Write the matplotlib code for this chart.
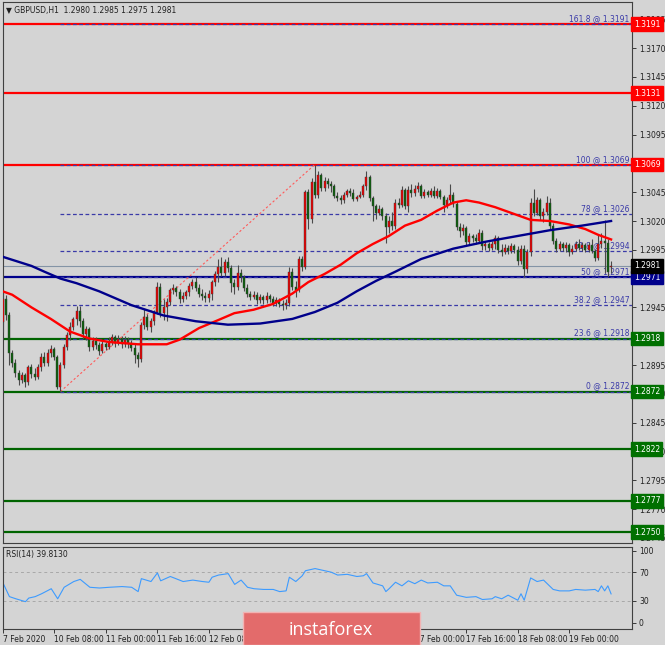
import matplotlib.pyplot as plt
from matplotlib.patches import Rectangle
import matplotlib.transforms as mtransforms

# GBPUSD H1 candles (7 Feb 16:00 .. 19 Feb)
opens = [1.2932, 1.2952, 1.2938, 1.2905, 1.2897, 1.2888, 1.2882, 1.2886, 1.2880, 1.2893,
         1.2887, 1.2885, 1.2893, 1.2902, 1.2897, 1.2905, 1.2909, 1.2902, 1.2876, 1.2895,
         1.2911, 1.2921, 1.2928, 1.2935, 1.2942, 1.2933, 1.2922, 1.2926, 1.2911, 1.2916,
         1.2912, 1.2907, 1.2913, 1.2911, 1.2916, 1.2919, 1.2914, 1.2918, 1.2913, 1.2917,
         1.2914, 1.2910, 1.2904, 1.2900, 1.2930, 1.2937, 1.2928, 1.2933, 1.2941, 1.2963,
         1.2940, 1.2945, 1.2950, 1.2960, 1.2962, 1.2958, 1.2952, 1.2955, 1.2958, 1.2964,
         1.2967, 1.2962, 1.2957, 1.2955, 1.2953, 1.2957, 1.2967, 1.2974, 1.2980, 1.2975,
         1.2984, 1.2979, 1.2966, 1.2963, 1.2975, 1.2971, 1.2962, 1.2957, 1.2954, 1.2956,
         1.2951, 1.2954, 1.2951, 1.2955, 1.2952, 1.2949, 1.2951, 1.2948, 1.2947, 1.2949,
         1.2976, 1.2963, 1.2960, 1.2987, 1.2980, 1.3045, 1.3022, 1.3054, 1.3043, 1.3060,
         1.3049, 1.3055, 1.3052, 1.3050, 1.3042, 1.3040, 1.3038, 1.3043, 1.3046, 1.3044,
         1.3039, 1.3041, 1.3043, 1.3050, 1.3058, 1.3040, 1.3033, 1.3027, 1.3030, 1.3024,
         1.3015, 1.3020, 1.3016, 1.3036, 1.3034, 1.3047, 1.3033, 1.3047, 1.3044, 1.3048,
         1.3050, 1.3042, 1.3045, 1.3043, 1.3046, 1.3042, 1.3046, 1.3041, 1.3034, 1.3038,
         1.3043, 1.3035, 1.3015, 1.3011, 1.3014, 1.3002, 1.3007, 1.3005, 1.3003, 1.3010,
         1.2998, 1.3000, 1.2997, 1.3000, 1.3005, 1.2995, 1.2993, 1.2997, 1.2994, 1.2998,
         1.2995, 1.2985, 1.2996, 1.2978, 1.2993, 1.3036, 1.3027, 1.3038, 1.3024, 1.3028,
         1.3036, 1.3016, 1.3003, 1.2996, 1.3000, 1.2997, 1.2999, 1.2993, 1.2996, 1.3000,
         1.2997, 1.2999, 1.2995, 1.2999, 1.2994, 1.2988, 1.3000, 1.3003, 1.3001, 1.2980]
highs = [1.2958, 1.2956, 1.2941, 1.2908, 1.2900, 1.2891, 1.2889, 1.2888, 1.2895, 1.2896,
         1.2892, 1.2896, 1.2905, 1.2906, 1.2909, 1.2912, 1.2911, 1.2904, 1.2898, 1.2913,
         1.2924, 1.2932, 1.2937, 1.2946, 1.2946, 1.2936, 1.2929, 1.2928, 1.2919, 1.2919,
         1.2915, 1.2916, 1.2915, 1.2919, 1.2922, 1.2921, 1.2921, 1.2920, 1.2920, 1.2919,
         1.2917, 1.2913, 1.2906, 1.2932, 1.2944, 1.2939, 1.2936, 1.2943, 1.2967, 1.2966,
         1.2952, 1.2953, 1.2962, 1.2965, 1.2964, 1.2961, 1.2958, 1.2960, 1.2966, 1.2970,
         1.2971, 1.2965, 1.2961, 1.2958, 1.2960, 1.2969, 1.2977, 1.2987, 1.2989, 1.2987,
         1.2989, 1.2982, 1.2970, 1.2982, 1.2978, 1.2973, 1.2965, 1.2959, 1.2959, 1.2958,
         1.2957, 1.2956, 1.2958, 1.2957, 1.2955, 1.2954, 1.2953, 1.2951, 1.2952, 1.2980,
         1.2979, 1.2968, 1.2990, 1.2990, 1.3047, 1.3048, 1.3057, 1.3069, 1.3063, 1.3062,
         1.3058, 1.3057, 1.3055, 1.3052, 1.3045, 1.3043, 1.3045, 1.3048, 1.3049, 1.3048,
         1.3043, 1.3046, 1.3052, 1.3063, 1.3060, 1.3042, 1.3035, 1.3034, 1.3032, 1.3027,
         1.3024, 1.3028, 1.3039, 1.3040, 1.3050, 1.3049, 1.3050, 1.3052, 1.3051, 1.3054,
         1.3052, 1.3048, 1.3047, 1.3049, 1.3050, 1.3049, 1.3048, 1.3043, 1.3041, 1.3052,
         1.3045, 1.3037, 1.3018, 1.3017, 1.3016, 1.3010, 1.3009, 1.3009, 1.3013, 1.3012,
         1.3003, 1.3002, 1.3003, 1.3008, 1.3007, 1.3000, 1.3000, 1.2999, 1.3001, 1.3000,
         1.2998, 1.2999, 1.2999, 1.2996, 1.3040, 1.3048, 1.3041, 1.3040, 1.3031, 1.3042,
         1.3040, 1.3018, 1.3005, 1.3003, 1.3002, 1.3002, 1.3001, 1.2999, 1.3003, 1.3004,
         1.3002, 1.3001, 1.3002, 1.3004, 1.2996, 1.3008, 1.3010, 1.3021, 1.3004, 1.2985]
lows = [1.2924, 1.2934, 1.2895, 1.2893, 1.2885, 1.2878, 1.2879, 1.2876, 1.2878, 1.2884,
        1.2882, 1.2883, 1.2890, 1.2894, 1.2894, 1.2902, 1.2899, 1.2874, 1.2872, 1.2892,
        1.2908, 1.2917, 1.2925, 1.2930, 1.2928, 1.2918, 1.2917, 1.2907, 1.2908, 1.2909,
        1.2904, 1.2905, 1.2908, 1.2909, 1.2912, 1.2911, 1.2912, 1.2910, 1.2911, 1.2910,
        1.2907, 1.2897, 1.2893, 1.2898, 1.2926, 1.2925, 1.2924, 1.2930, 1.2939, 1.2937,
        1.2934, 1.2933, 1.2947, 1.2957, 1.2955, 1.2949, 1.2950, 1.2952, 1.2955, 1.2961,
        1.2959, 1.2954, 1.2951, 1.2950, 1.2950, 1.2951, 1.2964, 1.2967, 1.2972, 1.2972,
        1.2976, 1.2958, 1.2957, 1.2960, 1.2967, 1.2959, 1.2954, 1.2951, 1.2952, 1.2948,
        1.2949, 1.2948, 1.2949, 1.2950, 1.2946, 1.2946, 1.2945, 1.2943, 1.2944, 1.2946,
        1.2960, 1.2954, 1.2958, 1.2977, 1.2978, 1.3013, 1.3018, 1.3040, 1.3040, 1.3046,
        1.3046, 1.3049, 1.3045, 1.3040, 1.3037, 1.3035, 1.3036, 1.3041, 1.3042, 1.3037,
        1.3037, 1.3040, 1.3041, 1.3047, 1.3037, 1.3020, 1.3022, 1.3025, 1.3021, 1.3001,
        1.3010, 1.3012, 1.3013, 1.3031, 1.3032, 1.3030, 1.3028, 1.3041, 1.3042, 1.3045,
        1.3040, 1.3040, 1.3041, 1.3041, 1.3040, 1.3040, 1.3039, 1.3028, 1.3031, 1.3035,
        1.3032, 1.3012, 1.3006, 1.3008, 1.2999, 1.2999, 1.3002, 1.3000, 1.3001, 1.2995,
        1.2995, 1.2994, 1.2995, 1.2996, 1.2992, 1.2990, 1.2991, 1.2991, 1.2992, 1.2992,
        1.2982, 1.2983, 1.2971, 1.2975, 1.2990, 1.3024, 1.3025, 1.3021, 1.3019, 1.3025,
        1.3013, 1.3000, 1.2993, 1.2994, 1.2994, 1.2993, 1.2990, 1.2991, 1.2994, 1.2995,
        1.2994, 1.2993, 1.2993, 1.2992, 1.2985, 1.2986, 1.2997, 1.2975, 1.2971, 1.2975]
closes = [1.2952, 1.2938, 1.2905, 1.2897, 1.2888, 1.2882, 1.2886, 1.2880, 1.2893, 1.2887,
          1.2885, 1.2893, 1.2902, 1.2897, 1.2905, 1.2909, 1.2902, 1.2876, 1.2895, 1.2911,
          1.2921, 1.2928, 1.2935, 1.2942, 1.2933, 1.2922, 1.2926, 1.2911, 1.2916, 1.2912,
          1.2907, 1.2913, 1.2911, 1.2916, 1.2919, 1.2914, 1.2918, 1.2913, 1.2917, 1.2914,
          1.2910, 1.2904, 1.2900, 1.2930, 1.2937, 1.2928, 1.2933, 1.2941, 1.2963, 1.2940,
          1.2945, 1.2950, 1.2960, 1.2962, 1.2958, 1.2952, 1.2955, 1.2958, 1.2964, 1.2967,
          1.2962, 1.2957, 1.2955, 1.2953, 1.2957, 1.2967, 1.2974, 1.2980, 1.2975, 1.2984,
          1.2979, 1.2966, 1.2963, 1.2975, 1.2971, 1.2962, 1.2957, 1.2954, 1.2956, 1.2951,
          1.2954, 1.2951, 1.2955, 1.2952, 1.2949, 1.2951, 1.2948, 1.2947, 1.2949, 1.2976,
          1.2963, 1.2960, 1.2987, 1.2980, 1.3045, 1.3022, 1.3054, 1.3043, 1.3060, 1.3049,
          1.3055, 1.3052, 1.3050, 1.3042, 1.3040, 1.3038, 1.3043, 1.3046, 1.3044, 1.3039,
          1.3041, 1.3043, 1.3050, 1.3058, 1.3040, 1.3033, 1.3027, 1.3030, 1.3024, 1.3015,
          1.3020, 1.3016, 1.3036, 1.3034, 1.3047, 1.3033, 1.3047, 1.3044, 1.3048, 1.3050,
          1.3042, 1.3045, 1.3043, 1.3046, 1.3042, 1.3046, 1.3041, 1.3034, 1.3038, 1.3043,
          1.3035, 1.3015, 1.3011, 1.3014, 1.3002, 1.3007, 1.3005, 1.3003, 1.3010, 1.2998,
          1.3000, 1.2997, 1.3000, 1.3005, 1.2995, 1.2993, 1.2997, 1.2994, 1.2998, 1.2995,
          1.2985, 1.2996, 1.2978, 1.2993, 1.3036, 1.3027, 1.3038, 1.3024, 1.3028, 1.3036,
          1.3016, 1.3003, 1.2996, 1.3000, 1.2997, 1.2999, 1.2993, 1.2996, 1.3000, 1.2997,
          1.2999, 1.2995, 1.2999, 1.2994, 1.2988, 1.3000, 1.3003, 1.3001, 1.2976, 1.2981]

# moving averages (read at these bars)
ma_red_bars = [0, 3, 9, 15, 21, 27, 33, 42, 51, 55, 61, 67, 72, 78, 84, 90, 95, 100, 105,
               110, 115, 120, 125, 130, 135, 140, 144, 148, 153, 158, 164, 170, 176, 181, 185, 189]
ma_red_vals = [1.2959, 1.2956, 1.2945, 1.2935, 1.2924, 1.2918, 1.2915, 1.2913, 1.2913, 1.2917,
               1.2927, 1.2934, 1.2940, 1.2943, 1.2948, 1.2957, 1.2967, 1.2974, 1.2982,
               1.2992, 1.3000, 1.3007, 1.3016, 1.3021, 1.3029, 1.3036, 1.3038, 1.3036, 1.3032,
               1.3027, 1.3021, 1.3020, 1.3017, 1.3013, 1.3008, 1.3004]
ma_blue_bars = [0, 9, 13, 18, 23, 30, 40, 50, 60, 70, 80, 90, 97, 104, 110, 116, 122, 130,
                140, 150, 160, 170, 180, 189]
ma_blue_vals = [1.2989, 1.2981, 1.2976, 1.2970, 1.2966, 1.2959, 1.2947, 1.2938, 1.2933, 1.2930,
                1.2931, 1.2935, 1.2941, 1.2949, 1.2959, 1.2968, 1.2976, 1.2987,
                1.2996, 1.3002, 1.3007, 1.3012, 1.3016, 1.3020]

# RSI(14)
rsi_bars = [0, 2, 4, 7, 8, 10, 12, 15, 17, 19, 22, 24, 27, 30, 33, 37, 40, 42, 43, 46, 48,
            49, 52, 56, 59, 62, 64, 65, 67, 70, 72, 74, 76, 78, 81, 84, 86, 88, 89, 91, 93,
            94, 97, 99, 102, 104, 107, 110, 112, 113, 115, 118, 119, 120, 122, 124, 126,
            128, 130, 132, 135, 137, 139, 141, 144, 147, 149, 152, 153, 155, 157, 160, 161,
            162, 164, 166, 168, 171, 173, 176, 178, 181, 184, 185, 186, 187, 188, 189]
rsi_vals = [55, 36, 33, 29, 34, 36, 40, 47, 33, 49, 57, 60, 49, 48, 49, 50, 49, 43, 61, 57, 69,
            58, 64, 57, 59, 57, 56, 63, 66, 68, 53, 59, 49, 47, 46, 46, 43, 44, 63, 57, 65,
            72, 75, 73, 70, 66, 67, 64, 65, 68, 55, 51, 43, 47, 56, 51, 58,
            54, 59, 55, 56, 51, 51, 38, 35, 36, 32, 33, 36, 33, 38, 31, 40,
            31, 62, 57, 59, 46, 44, 44, 46, 45, 46, 43, 51, 44, 51, 39.813]

x_ticks = [0, 16, 32, 48, 64, 80, 96, 112, 128, 144, 160, 176]
x_labels = ['7 Feb 2020', '10 Feb 08:00', '11 Feb 00:00', '11 Feb 16:00', '12 Feb 08:00',
            '13 Feb 00:00', '13 Feb 16:00', '14 Feb 08:00', '17 Feb 00:00', '17 Feb 16:00',
            '18 Feb 08:00', '19 Feb 00:00']

red_levels = [1.3191, 1.3131, 1.3069]
green_levels = [1.2918, 1.2872, 1.2822, 1.2777, 1.2750]
blue_level = 1.2971
last_price = 1.2981

fib_names = ['161.8', '100', '78', '61.8', '50', '38.2', '23.6', '0']
fib_levels = [1.3191, 1.3069, 1.3026, 1.2994, 1.2971, 1.2947, 1.2918, 1.2872]

bg = '#d4d4d4'
bull_col = '#ee0000'
bear_col = '#0a600a'
fib_col = '#3a3aa8'

fig = plt.figure(figsize=(6.65, 6.45), dpi=100, facecolor=bg)
ax = fig.add_axes([3 / 665, 1 - 543 / 645, 629 / 665, 541 / 645], facecolor=bg)
ax2 = fig.add_axes([3 / 665, 1 - 629 / 645, 629 / 665, 82 / 645], facecolor=bg)

xmin, xmax = 0.15, 195.5
for a in (ax, ax2):
    a.set_xlim(xmin, xmax)
    for s in a.spines.values():
        s.set_color('#404040')
        s.set_linewidth(0.8)

ax.set_ylim(1.27405, 1.32101)

# horizontal support / resistance lines
for lv in red_levels:
    ax.axhline(lv, color='#ff0000', lw=1.6, zorder=2)
for lv in green_levels:
    ax.axhline(lv, color='#006400', lw=1.6, zorder=2)
ax.axhline(blue_level, color='#00008b', lw=1.6, zorder=2)
ax.axhline(last_price, color='#8494a6', lw=0.8, zorder=2)

# fibonacci
ytr = mtransforms.blended_transform_factory(ax.transAxes, ax.transData)
for name, lv in zip(fib_names, fib_levels):
    ax.hlines(lv, 18, xmax, colors=fib_col, linestyles=(0, (3, 2)), lw=0.9, zorder=2.2)
    ax.text(0.996, lv + 0.00008, f'{name} @ {lv:.4f}', transform=ytr, ha='right', va='bottom',
            fontsize=5.5, color=fib_col, zorder=2.3)
ax.plot([18, 97], [1.2872, 1.3069], color='#ff5a5a', ls=(0, (2, 2)), lw=0.8, zorder=2.2)

# candles
n = len(closes)
xs = list(range(n))
ax.vlines(xs, lows, highs, colors='#4a4a4a', lw=0.8, zorder=3)
bottoms = [min(o, c) for o, c in zip(opens, closes)]
heights = [max(abs(c - o), 0.00004) for o, c in zip(opens, closes)]
cols = [bull_col if c >= o else bear_col for o, c in zip(opens, closes)]
ax.bar(xs, heights, bottom=bottoms, width=0.62, color=cols, edgecolor='#3a3a3a',
       linewidth=0.3, zorder=3.1)

ax.plot(ma_red_bars, ma_red_vals, color='#ff0000', lw=1.7, zorder=4)
ax.plot(ma_blue_bars, ma_blue_vals, color='#00008b', lw=1.7, zorder=4)

# right price axis (labels fully under a price box are left out)
yt = [1.2745 + 0.0025 * k for k in range(19)]
hidden = {'1.3070', '1.2970', '1.2920'}
ax.set_yticks(yt)
ax.set_yticklabels(['' if f'{v:.4f}' in hidden else f'{v:.4f}' for v in yt])
ax.yaxis.tick_right()
ax.tick_params(axis='y', labelsize=5.5, length=3, width=0.6, pad=2, colors='#202020')
ax.set_xticks([])

def price_box(lv, col):
    ax.text(1.003, lv, f'{lv:.4f}', transform=ytr, ha='left', va='center', fontsize=5.5,
            color='white', clip_on=False, zorder=10,
            bbox=dict(boxstyle='square,pad=0.32', facecolor=col, edgecolor=col))

for lv in red_levels:
    price_box(lv, '#ff0000')
for lv in green_levels:
    price_box(lv, '#007000')
price_box(blue_level, '#00008b')
price_box(last_price, '#000000')

ax.text(0.004, 0.993, '\u25bc GBPUSD,H1  1.2980 1.2985 1.2975 1.2981', transform=ax.transAxes,
        ha='left', va='top', fontsize=5.5, color='#202020')

# RSI panel
ax2.set_ylim(-9, 105)
ax2.axhline(70, color='#a8a8a8', lw=0.7, ls=(0, (3, 3)))
ax2.axhline(30, color='#a8a8a8', lw=0.7, ls=(0, (3, 3)))
ax2.plot(rsi_bars, rsi_vals, color='#3d9bff', lw=0.8)
ax2.yaxis.tick_right()
ax2.set_yticks([0, 30, 70, 100])
ax2.tick_params(axis='y', labelsize=5.5, length=3, width=0.6, pad=2, colors='#202020')
ax2.text(0.005, 0.96, 'RSI(14) 39.8130', transform=ax2.transAxes, ha='left', va='top',
         fontsize=5.5, color='#202020')
ax2.set_xticks(x_ticks)
ax2.set_xticklabels(x_labels, ha='left')
ax2.tick_params(axis='x', labelsize=5.5, length=3, width=0.6, pad=1.5, colors='#202020')

# watermark
fig.patches.append(Rectangle((243 / 665, 0), 177 / 665, 33 / 645, transform=fig.transFigure,
                             facecolor='#e36b6b', edgecolor='#f2b3b3', lw=1, zorder=20))
fig.text(331 / 665, 15 / 645, 'instaforex', ha='center', va='center', fontsize=13,
         color='white', family='Open Sans', zorder=21)

fig.savefig('out.png', dpi=100, facecolor=bg)
